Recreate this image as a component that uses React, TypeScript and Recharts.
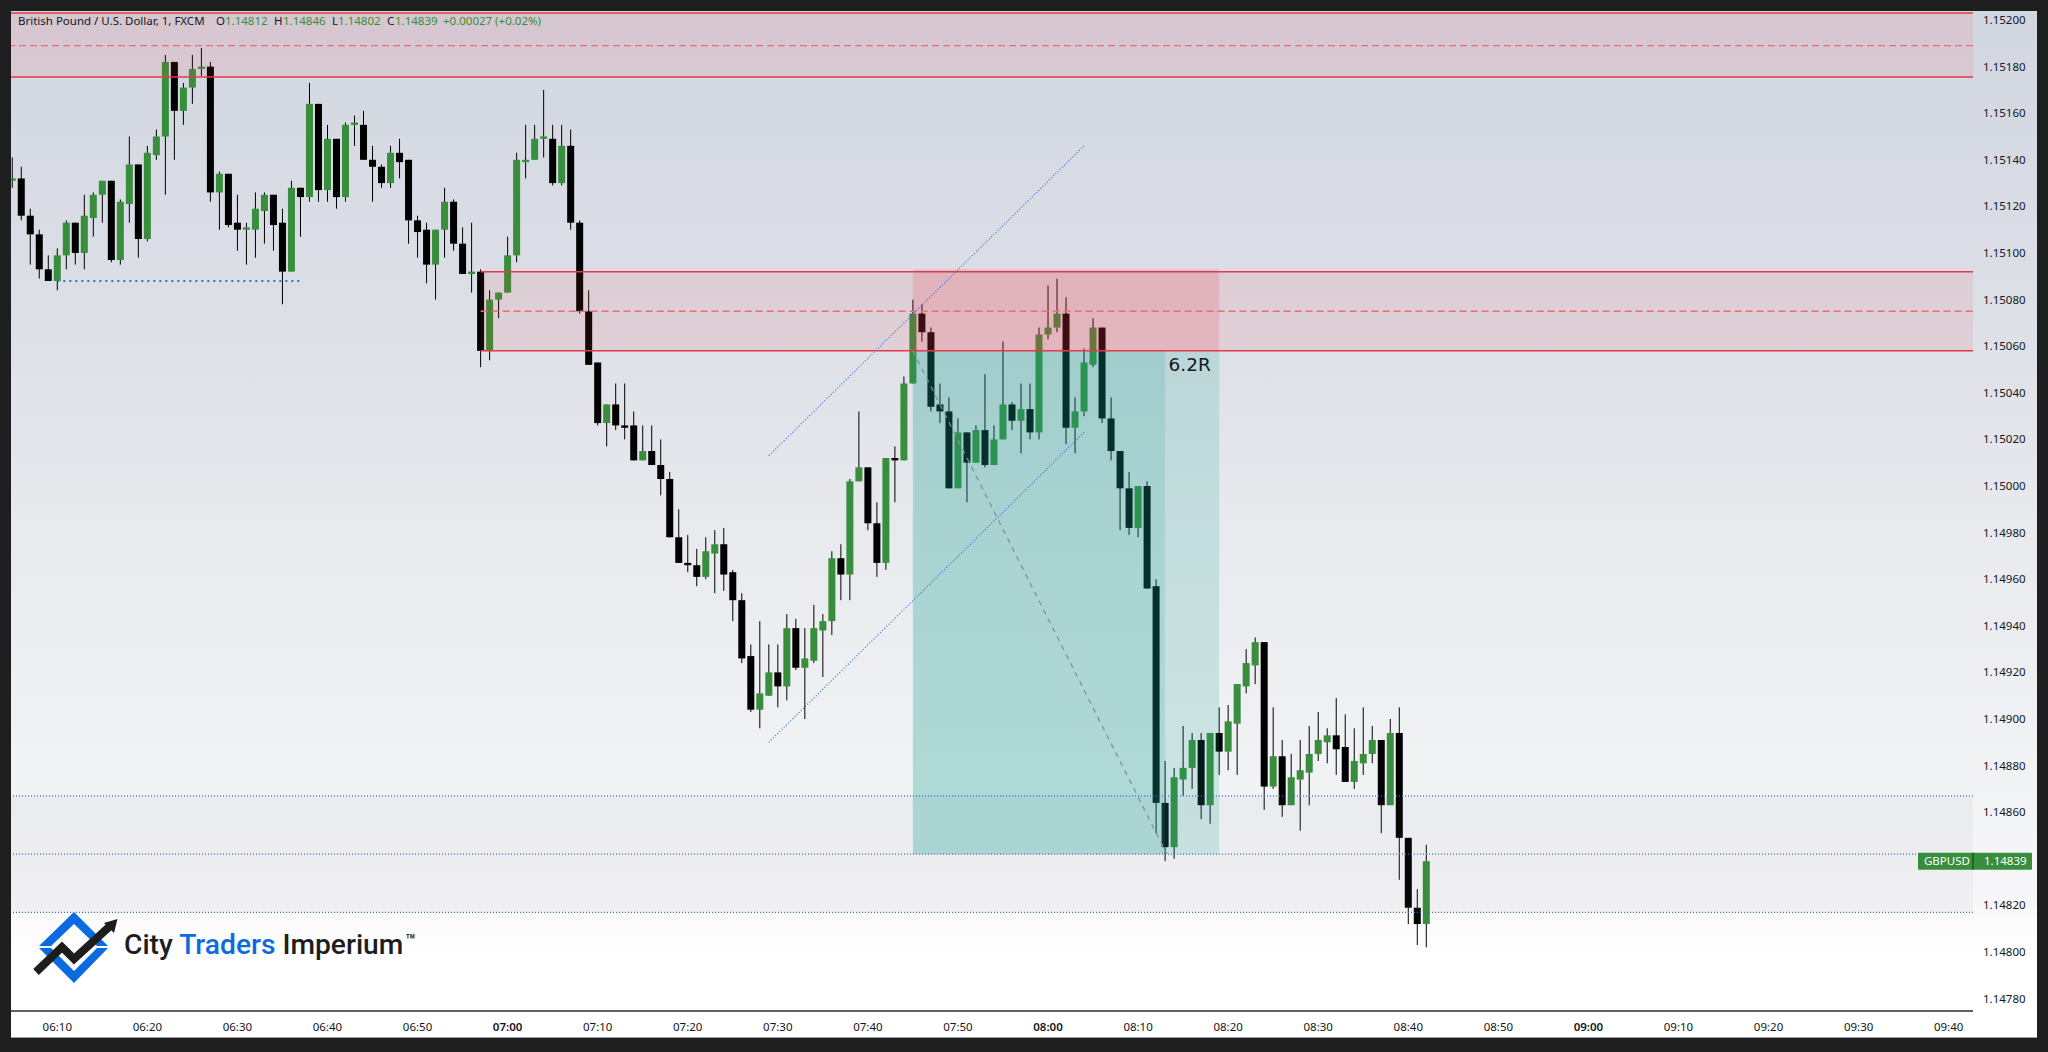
import React from 'react';
import { ComposedChart, Bar, XAxis, YAxis, ReferenceArea, ReferenceLine } from 'recharts';

const firstMinute = -5; // minutes after 06:10 of the first visible candle

const opens = [
  1.15131,1.15132,1.15116,1.15108,1.15093,
  1.15088,1.15099,1.15113,1.15100,1.15115,1.15125,1.15131,1.15097,1.15121,1.15138,
  1.15106,1.15142,1.15150,1.15182,1.15161,1.15171,1.15179,1.15180,1.15126,1.15134,
  1.15113,1.15110,1.15110,1.15118,1.15125,1.15113,1.15092,1.15128,1.15124,1.15164,
  1.15127,1.15149,1.15124,1.15155,1.15155,1.15140,1.15137,1.15130,1.15143,1.15140,
  1.15114,1.15110,1.15095,1.15110,1.15122,1.15104,1.15091,1.15092,1.15058,1.15080,
  1.15083,1.15099,1.15139,1.15140,1.15149,1.15149,1.15130,1.15146,1.15113,1.15075,
  1.15053,1.15027,1.15035,1.15026,1.15026,1.15011,1.15015,1.15009,1.15003,1.14978,
  1.14967,1.14966,1.14961,1.14971,1.14975,1.14963,1.14951,1.14927,1.14904,1.14910,
  1.14920,1.14914,1.14939,1.14922,1.14925,1.14938,1.14942,1.14969,1.14962,1.15002,
  1.15008,1.14984,1.14967,1.15012,1.15011,1.15044,1.15074,1.15066,1.15035,1.15032,
  1.14999,1.15023,1.15010,1.15024,1.15009,1.15020,1.15035,1.15028,1.15033,1.15023,
  1.15065,1.15068,1.15074,1.15025,1.15032,1.15052,1.15068,1.15029,1.15015,1.14999,
  1.14982,1.15000,1.14957,1.14864,1.14845,1.14874,1.14879,1.14891,1.14863,1.14894,
  1.14886,1.14898,1.14914,1.14923,1.14933,1.14871,1.14884,1.14863,1.14874,1.14877,
  1.14885,1.14890,1.14893,1.14888,1.14873,1.14881,1.14885,1.14891,1.14863,1.14894,
  1.14849,1.14819,1.14812,
];

const highs = [
  1.15141,1.15137,1.15119,1.15110,1.15099,
  1.15102,1.15114,1.15113,1.15125,1.15126,1.15131,1.15131,1.15123,1.15150,1.15138,
  1.15146,1.15153,1.15185,1.15182,1.15173,1.15185,1.15188,1.15182,1.15135,1.15134,
  1.15125,1.15113,1.15126,1.15126,1.15125,1.15119,1.15131,1.15128,1.15173,1.15164,
  1.15155,1.15149,1.15156,1.15159,1.15161,1.15146,1.15138,1.15146,1.15149,1.15140,
  1.15116,1.15113,1.15110,1.15128,1.15123,1.15111,1.15113,1.15093,1.15084,1.15083,
  1.15107,1.15143,1.15155,1.15155,1.15170,1.15155,1.15155,1.15153,1.15114,1.15084,
  1.15053,1.15035,1.15044,1.15044,1.15032,1.15026,1.15026,1.15020,1.15006,1.14990,
  1.14979,1.14973,1.14978,1.14981,1.14982,1.14964,1.14954,1.14932,1.14942,1.14932,
  1.14932,1.14945,1.14943,1.14939,1.14949,1.14945,1.14972,1.14975,1.15003,1.15032,
  1.15008,1.14993,1.15012,1.15017,1.15047,1.15080,1.15078,1.15068,1.15044,1.15038,
  1.15029,1.15023,1.15026,1.15048,1.15026,1.15062,1.15036,1.15044,1.15044,1.15068,
  1.15086,1.15089,1.15081,1.15038,1.15059,1.15072,1.15068,1.15038,1.15015,1.15006,
  1.15000,1.15002,1.14960,1.14882,1.14879,1.14897,1.14894,1.14894,1.14894,1.14905,
  1.14906,1.14915,1.14930,1.14935,1.14933,1.14905,1.14891,1.14885,1.14891,1.14897,
  1.14903,1.14896,1.14909,1.14902,1.14896,1.14905,1.14897,1.14891,1.14900,1.14905,
  1.14849,1.14827,1.14846,
];

const lows = [
  1.15128,1.15114,1.15095,1.15089,1.15088,
  1.15084,1.15093,1.15095,1.15093,1.15107,1.15113,1.15096,1.15095,1.15113,1.15098,
  1.15105,1.15140,1.15125,1.15140,1.15155,1.15164,1.15176,1.15122,1.15110,1.15111,
  1.15101,1.15095,1.15098,1.15104,1.15101,1.15078,1.15092,1.15107,1.15122,1.15122,
  1.15122,1.15119,1.15122,1.15146,1.15140,1.15122,1.15128,1.15128,1.15132,1.15104,
  1.15098,1.15087,1.15080,1.15098,1.15101,1.15091,1.15083,1.15051,1.15054,1.15072,
  1.15083,1.15096,1.15132,1.15140,1.15141,1.15129,1.15129,1.15110,1.15074,1.15052,
  1.15026,1.15017,1.15024,1.15020,1.15011,1.15011,1.15009,1.14996,1.14978,1.14967,
  1.14963,1.14957,1.14960,1.14954,1.14955,1.14942,1.14924,1.14903,1.14896,1.14910,
  1.14905,1.14908,1.14921,1.14900,1.14924,1.14918,1.14936,1.14951,1.14951,1.15002,
  1.14981,1.14961,1.14964,1.14993,1.15011,1.15044,1.15062,1.15032,1.15027,1.14999,
  1.14999,1.14993,1.15010,1.15008,1.15009,1.15020,1.15024,1.15014,1.15020,1.15020,
  1.15063,1.15066,1.15018,1.15014,1.15030,1.15051,1.15027,1.15011,1.14981,1.14979,
  1.14978,1.14956,1.14851,1.14839,1.14840,1.14867,1.14870,1.14857,1.14855,1.14876,
  1.14878,1.14876,1.14911,1.14915,1.14861,1.14870,1.14858,1.14863,1.14852,1.14863,
  1.14882,1.14881,1.14876,1.14873,1.14870,1.14876,1.14881,1.14851,1.14863,1.14831,
  1.14812,1.14803,1.14802,
];

const closes = [
  1.15132,1.15116,1.15108,1.15093,1.15088,
  1.15099,1.15113,1.15100,1.15116,1.15125,1.15131,1.15097,1.15122,1.15138,1.15106,
  1.15143,1.15150,1.15182,1.15161,1.15171,1.15179,1.15180,1.15126,1.15134,1.15112,
  1.15110,1.15111,1.15119,1.15125,1.15112,1.15092,1.15128,1.15124,1.15164,1.15127,
  1.15149,1.15124,1.15155,1.15156,1.15140,1.15137,1.15130,1.15143,1.15139,1.15114,
  1.15109,1.15095,1.15110,1.15122,1.15104,1.15091,1.15092,1.15058,1.15080,1.15083,
  1.15099,1.15140,1.15140,1.15149,1.15150,1.15130,1.15146,1.15113,1.15075,1.15052,
  1.15027,1.15035,1.15026,1.15025,1.15011,1.15015,1.15009,1.15003,1.14978,1.14967,
  1.14966,1.14961,1.14972,1.14975,1.14962,1.14951,1.14926,1.14904,1.14911,1.14920,
  1.14914,1.14939,1.14922,1.14926,1.14939,1.14942,1.14969,1.14962,1.15002,1.15008,
  1.14984,1.14967,1.15012,1.15011,1.15044,1.15074,1.15066,1.15034,1.15032,1.14999,
  1.15023,1.15010,1.15024,1.15009,1.15020,1.15035,1.15028,1.15033,1.15023,1.15065,
  1.15068,1.15074,1.15025,1.15032,1.15053,1.15068,1.15029,1.15015,1.14999,1.14982,
  1.15000,1.14956,1.14864,1.14845,1.14875,1.14879,1.14891,1.14863,1.14894,1.14886,
  1.14899,1.14915,1.14924,1.14933,1.14871,1.14884,1.14863,1.14875,1.14878,1.14885,
  1.14891,1.14893,1.14887,1.14873,1.14882,1.14885,1.14891,1.14863,1.14894,1.14849,
  1.14819,1.14812,1.14839,
];

// 1.1484 is hidden behind the last price tag in the original
const priceTicks = [
  1.1478,1.148,1.1482,1.1486,1.1488,1.149,1.1492,1.1494,1.1496,1.1498,
  1.15,1.1502,1.1504,1.1506,1.1508,1.151,1.1512,1.1514,1.1516,1.1518,1.152,
];
const timeTicks = [0,10,20,30,40,50,60,70,80,90,100,110,120,130,140,150,160,170,180,190,200,210];
const timeLabels = [
  '06:10','06:20','06:30','06:40','06:50','07:00','07:10','07:20','07:30','07:40','07:50',
  '08:00','08:10','08:20','08:30','08:40','08:50','09:00','09:10','09:20','09:30','09:40',
];
const boldLabels = ['07:00', '08:00', '09:00'];

// drawings on the chart: [x1, price1, x2, price2] in minutes / price
const supplyZoneTop = [1.15203, 1.15189, 1.151755];
const supplyZoneMid = [1.15092, 1.15075, 1.15058];
const sweepLine = [0, 1.15088, 27, 1.15088];
const channelUpper = [79, 1.15013, 114, 1.15146];
const channelLower = [79, 1.1489, 114, 1.15023];
const tradePath = [95, 1.15058, 123.2, 1.14842];
const levels = [1.14867, 1.14842, 1.14817];
const shortTool = { start: 95, mid: 123, end: 129, stop: 1.15093, entry: 1.15058, target: 1.14842 };

const lastPrice = 1.14839;
const GREEN = '#388e3c';
const TEXT = '#131722';
const FONT = '"Noto Sans", sans-serif';

const candles = opens.map((open, i) => ({
  minute: firstMinute + i,
  open,
  high: highs[i],
  low: lows[i],
  close: closes[i],
  range: [lows[i], highs[i]],
}));

const Candle = (props: any) => {
  const { x, y, width, height, payload } = props;
  const { open, high, low, close } = payload;
  const perUnit = height / (high - low);
  const bodyTop = y + (high - Math.max(open, close)) * perUnit;
  const bodyHeight = Math.max(Math.abs(open - close) * perUnit, 1);
  const color = close >= open ? GREEN : '#000000';
  const mid = x + width / 2;
  return (
    <g>
      <line x1={mid} x2={mid} y1={y} y2={y + height} stroke="#000000" strokeWidth={1} />
      <rect x={x} y={bodyTop} width={width} height={bodyHeight} fill={color} />
    </g>
  );
};

const TimeTick = (props: any) => {
  const { x, y, payload } = props;
  const label = timeLabels[timeTicks.indexOf(payload.value)];
  return (
    <text x={x} y={y + 4} textAnchor="middle" fontFamily={FONT} fontSize={11.5}
      fontWeight={boldLabels.includes(label) ? 600 : 400} fill={TEXT}>
      {label}
    </text>
  );
};

const LastPriceTag = (props: any) => {
  const { viewBox } = props;
  const y = viewBox.y;
  const right = viewBox.x + viewBox.width;
  return (
    <g fontFamily={FONT} fontSize={11.5} fill="#ffffff">
      <rect x={right - 55} y={y - 8.5} width={114} height={17} rx={1} fill={GREEN} />
      <line x1={right} x2={right} y1={y - 8.5} y2={y + 8.5} stroke="#123a17" />
      <text x={right - 49} y={y + 4}>GBPUSD</text>
      <text x={right + 11} y={y + 4}>{lastPrice.toFixed(5)}</text>
    </g>
  );
};

const Logo = () => (
  <svg width={130} height={90} viewBox="20 905 130 90" style={{ position: 'absolute', left: 20, top: 905 }}>
    <polygon points="39,946 74,912 108,946 97,946 74,924 51,946" fill="#0a6adf" />
    <polygon points="39,948 74,983 108,948 97,948 74,971 51,948" fill="#0a6adf" />
    <polyline points="36,972 62,947 74,959 109,927" fill="none" stroke="#1d1d1d" strokeWidth={8} />
    <polygon points="117.5,919 104,923 114,933" fill="#1d1d1d" />
  </svg>
);

const legendParts = [
  { left: 18, text: 'British Pound / U.S. Dollar, 1, FXCM', color: TEXT },
  { left: 216, text: 'O', color: TEXT },
  { left: 225, text: '1.14812', color: GREEN },
  { left: 274, text: 'H', color: TEXT },
  { left: 283, text: '1.14846', color: GREEN },
  { left: 332, text: 'L', color: TEXT },
  { left: 338, text: '1.14802', color: GREEN },
  { left: 387, text: 'C', color: TEXT },
  { left: 395, text: '1.14839', color: GREEN },
  { left: 443, text: '+0.00027 (+0.02%)', color: GREEN },
];

export default function App() {
  const zoneLine = { stroke: '#e23a4a', strokeWidth: 1.5, ifOverflow: 'visible' as const };
  const zoneDash = { stroke: '#ec6c78', strokeWidth: 1.3, strokeDasharray: '7 4' };
  const dotted = { stroke: '#2a6fd6', strokeWidth: 1.2, strokeDasharray: '1 2' };
  return (
    <div style={{ position: 'absolute', left: 0, top: 0, width: 2048, height: 1052, background: '#1f1f1f', overflow: 'hidden' }}>
      <div
        style={{
          position: 'absolute', left: 11, top: 11, width: 2026, height: 1027,
          borderBottom: '1px solid #9a9ca3', boxSizing: 'border-box',
          background: 'linear-gradient(to bottom, #d2d6e0 0px, #dcdfe6 300px, #e8e9ed 500px, #f2f3f5 780px, #f7f7f9 895px, #fbfbfc 905px, #ffffff 945px, #ffffff 1027px)',
        }}
      >
        <ComposedChart width={2026} height={1027} data={candles} margin={{ top: 0, right: 0, bottom: 0, left: 0 }} barGap={0}>
          <XAxis
            dataKey="minute" type="number" domain={[-5.14, 212.7]} allowDataOverflow ticks={timeTicks}
            interval={0} height={27} tickLine={false} tick={<TimeTick />} tickMargin={10}
            axisLine={{ stroke: '#2a2e39', strokeWidth: 1.5 }}
          />
          <YAxis
            orientation="right" type="number" domain={[1.1477468, 1.1520386]} allowDataOverflow ticks={priceTicks}
            interval={0} width={64} axisLine={false} tickLine={false} tickSize={0} tickMargin={10}
            tickFormatter={(v: number) => v.toFixed(5)}
            tick={{ fontFamily: FONT, fontSize: 11.5, fill: TEXT }}
          />
          <Bar dataKey="range" barSize={7} shape={<Candle />} isAnimationActive={false} />

          {/* supply zones */}
          <ReferenceArea y1={supplyZoneTop[0]} y2={supplyZoneTop[2]} fill="#f23645" fillOpacity={0.1} stroke="none" zIndex={500} />
          <ReferenceLine y={supplyZoneTop[0]} {...zoneLine} zIndex={600} />
          <ReferenceLine y={supplyZoneTop[1]} {...zoneDash} zIndex={600} />
          <ReferenceLine y={supplyZoneTop[2]} {...zoneLine} zIndex={600} />
          <ReferenceArea x1={47} x2={212.7} y1={supplyZoneMid[0]} y2={supplyZoneMid[2]} fill="#f23645" fillOpacity={0.1} stroke="none" zIndex={500} />
          <ReferenceLine segment={[{ x: 47, y: supplyZoneMid[0] }, { x: 212.7, y: supplyZoneMid[0] }]} {...zoneLine} zIndex={600} />
          <ReferenceLine segment={[{ x: 47, y: supplyZoneMid[1] }, { x: 212.7, y: supplyZoneMid[1] }]} {...zoneDash} zIndex={600} />
          <ReferenceLine segment={[{ x: 47, y: supplyZoneMid[2] }, { x: 212.7, y: supplyZoneMid[2] }]} {...zoneLine} zIndex={600} />

          {/* grey band and the levels */}
          <ReferenceArea y1={levels[0]} y2={levels[2]} fill="#787b86" fillOpacity={0.06} stroke="none" zIndex={500} />
          {levels.map((level) => (
            <ReferenceLine key={level} y={level} {...dotted} zIndex={600} />
          ))}

          {/* short position tool */}
          <ReferenceArea x1={shortTool.start} x2={shortTool.end} y1={shortTool.stop} y2={shortTool.entry} fill="#f23645" fillOpacity={0.17} stroke="none" zIndex={510} />
          <ReferenceArea x1={shortTool.start} x2={shortTool.mid} y1={shortTool.entry} y2={shortTool.target} fill="#14a08f" fillOpacity={0.3} stroke="none" zIndex={510} />
          <ReferenceArea
            x1={shortTool.mid} x2={shortTool.end} y1={shortTool.entry} y2={shortTool.target}
            fill="#14a08f" fillOpacity={0.17} stroke="none" zIndex={510}
            label={{ value: '6.2R', position: 'insideTop', offset: 7, dx: -2.5, fill: TEXT, fontSize: 18.5, fontFamily: '"DejaVu Sans", sans-serif' }}
          />

          {/* hand drawn lines */}
          <ReferenceLine segment={[{ x: sweepLine[0], y: sweepLine[1] }, { x: sweepLine[2], y: sweepLine[3] }]} stroke="#2f74d0" strokeWidth={2} strokeDasharray="2 4" zIndex={600} />
          <ReferenceLine segment={[{ x: channelUpper[0], y: channelUpper[1] }, { x: channelUpper[2], y: channelUpper[3] }]} {...dotted} zIndex={600} />
          <ReferenceLine segment={[{ x: channelLower[0], y: channelLower[1] }, { x: channelLower[2], y: channelLower[3] }]} {...dotted} zIndex={600} />
          <ReferenceLine segment={[{ x: tradePath[0], y: tradePath[1] }, { x: tradePath[2], y: tradePath[3] }]} stroke="#8a8d96" strokeWidth={1.3} strokeDasharray="5 5" zIndex={600} />

          <ReferenceLine y={lastPrice} stroke="none" label={<LastPriceTag />} zIndex={700} />
        </ComposedChart>
      </div>

      <div style={{ position: 'absolute', left: 0, top: 0, fontFamily: FONT, fontSize: 11.5 }}>
        {legendParts.map((part) => (
          <span key={part.left} style={{ position: 'absolute', left: part.left, top: 13, whiteSpace: 'nowrap', color: part.color }}>
            {part.text}
          </span>
        ))}
      </div>

      <Logo />
      <div style={{ position: 'absolute', left: 124, top: 928, fontFamily: 'Roboto, sans-serif', fontWeight: 500, fontSize: 28.2, color: '#1d1d1d', whiteSpace: 'nowrap' }}>
        City <span style={{ color: '#0a6adf' }}>Traders</span> Imperium<sup style={{ fontSize: 17, verticalAlign: 'top', position: 'relative', top: 2, marginLeft: 2 }}>™</sup>
      </div>
    </div>
  );
}
